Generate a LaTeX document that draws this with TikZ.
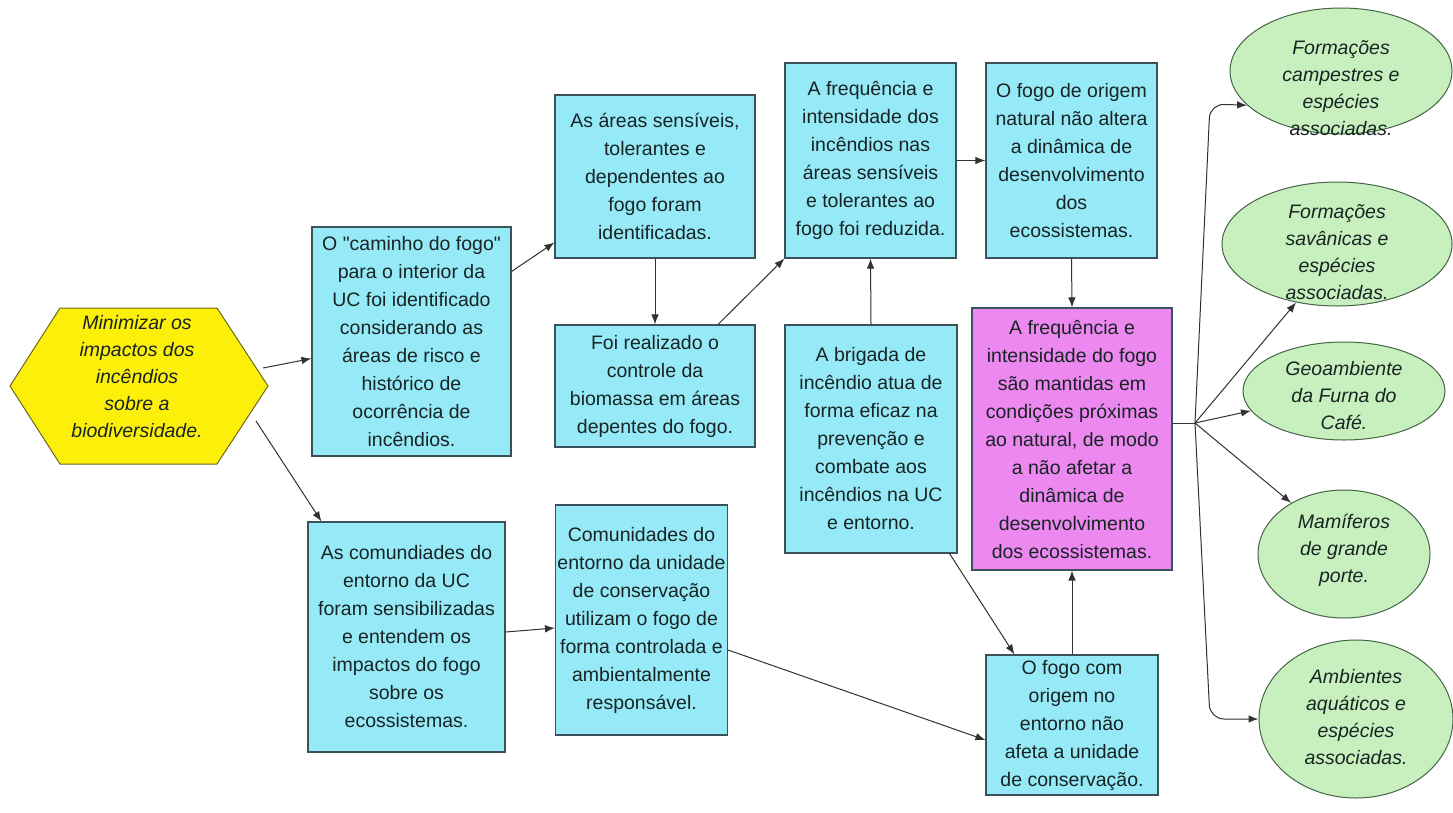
\documentclass[tikz,border=0pt]{standalone}
\usepackage{fontspec}
\setmainfont{Liberation Sans}
\usetikzlibrary{arrows.meta,shapes.geometric}
\definecolor{boxcyan}{RGB}{150,234,248}
\definecolor{boxpink}{RGB}{236,136,240}
\definecolor{leafgreen}{RGB}{200,240,190}
\definecolor{goalyellow}{RGB}{252,240,10}
\definecolor{boxline}{RGB}{60,82,90}
\definecolor{leafline}{RGB}{70,100,70}
\definecolor{ink}{RGB}{24,36,36}
\definecolor{wire}{RGB}{50,50,50}

\begin{document}
\begin{tikzpicture}[x=1pt,y=-1pt,>={Latex[length=10pt,width=7.5pt]},
  box/.style={draw=boxline,line width=1.1pt,fill=boxcyan,text=ink,align=center,inner sep=2pt,font=\fontsize{19.5}{28}\selectfont},
  leaf/.style={draw=leafline,line width=1pt,fill=leafgreen,ellipse,inner sep=0pt},
  leaftext/.style={text=ink,align=center,inner sep=0pt,font=\fontsize{19.5}{27}\selectfont\itshape},
  wire/.style={->,draw=wire,line width=1pt}]
\useasboundingbox (0,0) rectangle (1453,812);
\fill[white] (0,0) rectangle (1453,812);

\draw[draw=olive!70!black,line width=1pt,fill=goalyellow] (10,386) -- (60,308) -- (217,308) -- (268,386) -- (217,464) -- (60,464) -- cycle;
\node[leaftext] (goal) at (137,377) {Minimizar os\\impactos dos\\incêndios\\sobre a\\biodiversidade.};
\coordinate (goalE) at (263,368);
\coordinate (goalSE) at (256,421);

\node[box,minimum width=199pt,minimum height=229pt] (path) at (411.5,341.5) {O \textquotedbl caminho do fogo\textquotedbl\\para o interior da\\UC foi identificado\\considerando as\\áreas de risco e\\histórico de\\ocorrência de\\incêndios.};
\node[box,minimum width=200pt,minimum height=163pt] (areas) at (655,176.5) {As áreas sensíveis,\\tolerantes e\\dependentes ao\\fogo foram\\identificadas.};
\node[box,minimum width=200pt,minimum height=122pt] (biomass) at (655,386) {Foi realizado o\\controle da\\biomassa em áreas\\depentes do fogo.};
\node[box,minimum width=171pt,minimum height=195pt] (freq) at (870.5,160.5) {A frequência e\\intensidade dos\\incêndios nas\\áreas sensíveis\\e tolerantes ao\\fogo foi reduzida.};
\node[box,minimum width=171pt,minimum height=195pt] (natural) at (1071.5,160.5) {O fogo de origem\\natural não altera\\a dinâmica de\\desenvolvimento\\dos\\ecossistemas.};
\node[box,minimum width=172pt,minimum height=228pt] (brigade) at (871,439) {A brigada de\\incêndio atua de\\forma eficaz na\\prevenção e\\combate aos\\incêndios na UC\\e entorno.};
\node[box,fill=boxpink,minimum width=200pt,minimum height=262pt] (target) at (1072,439) {A frequência e\\intensidade do fogo\\são mantidas em\\condições próximas\\ao natural, de modo\\a não afetar a\\dinâmica de\\desenvolvimento\\dos ecossistemas.};
\node[box,minimum width=197pt,minimum height=230pt] (aware) at (406.5,637) {As comundiades do\\entorno da UC\\foram sensibilizadas\\e entendem os\\impactos do fogo\\sobre os\\ecossistemas.};
\node[box,minimum width=171pt,minimum height=230pt] (use) at (641.5,620) {Comunidades do\\entorno da unidade\\de conservação\\utilizam o fogo de\\forma controlada e\\ambientalmente\\responsável.};
\node[box,minimum width=172pt,minimum height=140pt] (outside) at (1072,725) {O fogo com\\origem no\\entorno não\\afeta a unidade\\de conservação.};

\node[leaf,minimum width=222pt,minimum height=126pt] (camp) at (1341,71) {};
\node[leaftext] (campT) at (1341,88) {Formações\\campestres e\\espécies\\associadas.};
\node[leaf,minimum width=230pt,minimum height=124pt] (sav) at (1337,244) {};
\node[leaftext] (savT) at (1337,252) {Formações\\savânicas e\\espécies\\associadas.};
\node[leaf,minimum width=202pt,minimum height=98pt] (geo) at (1344,391) {};
\node[leaftext] (geoT) at (1344,396) {Geoambiente\\da Furna do\\Café.};
\node[leaf,minimum width=172pt,minimum height=128pt] (mam) at (1344,554) {};
\node[leaftext] (mamT) at (1344,550) {Mamíferos\\de grande\\porte.};
\node[leaf,minimum width=194pt,minimum height=158pt] (aqua) at (1356,719) {};
\node[leaftext] (aquaT) at (1356,717) {Ambientes\\aquáticos e\\espécies\\associadas.};
\coordinate (fan) at (1195,423);

\draw[wire] (goalE) -- ([yshift=-17pt]path.west);
\draw[wire] (goalSE) -- ([xshift=14pt]aware.north west);
\draw[wire] ([yshift=70pt]path.east) -- ([yshift=-66pt]areas.west);
\draw[wire] (areas.south) -- (biomass.north);
\draw[wire] ([xshift=63pt]biomass.north) -- (freq.south west);
\draw[wire] (freq.east) -- (natural.west);
\draw[wire] (brigade.north) -- (freq.south);
\draw[wire] (natural.south) -- (target.north);
\draw[wire] ([xshift=-8pt]brigade.south east) -- ([xshift=29pt]outside.north west);
\draw[wire] (outside.north) -- (target.south);
\draw[wire] ([yshift=5pt]aware.east) -- ([yshift=-8pt]use.west);
\draw[wire] ([yshift=-30pt]use.east) -- ([yshift=-15pt]outside.west);
\draw[draw=wire,line width=1pt] ([yshift=16pt]target.east) -- (fan);
\draw[wire,rounded corners=14pt] (fan) -- (1210,104) -- (camp.200);
\draw[wire] (fan) -- (sav.235);
\draw[wire] (fan) -- (geo.192);
\draw[wire] (fan) -- (mam.136);
\draw[wire,rounded corners=14pt] (fan) -- (1210,719) -- (aqua.west);
\end{tikzpicture}
\end{document}
